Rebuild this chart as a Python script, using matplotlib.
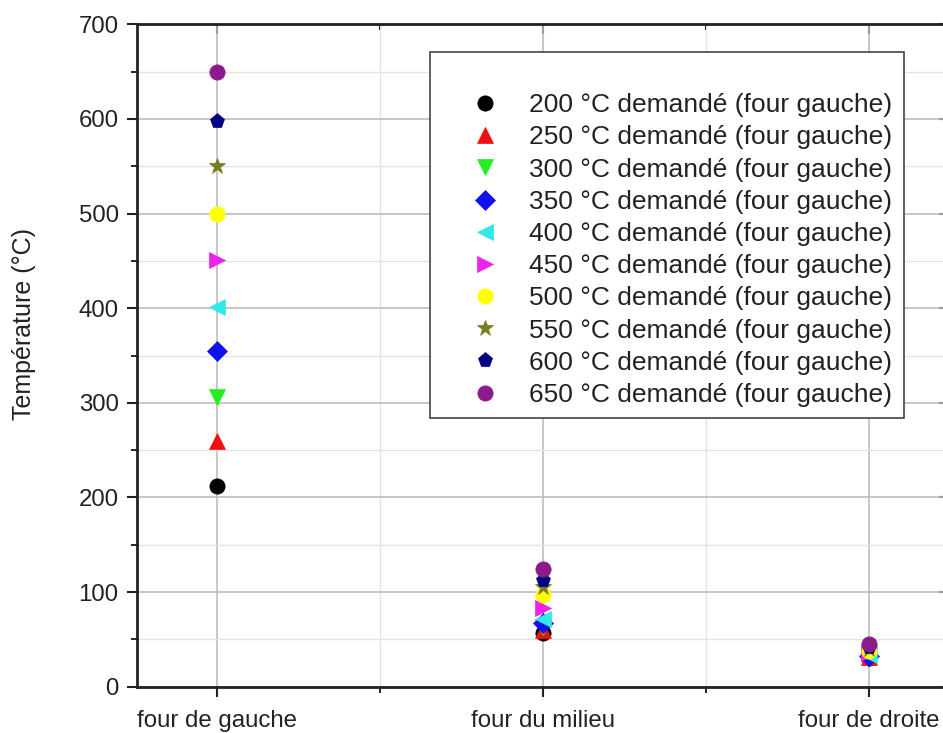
import matplotlib.pyplot as plt
from matplotlib.ticker import MultipleLocator, FixedLocator

plt.rcParams['font.family'] = ['Liberation Sans', 'DejaVu Sans']

fours = ['four de gauche', 'four du milieu', 'four de droite']
consignes = [200, 250, 300, 350, 400, 450, 500, 550, 600, 650]

# températures mesurées (gauche, milieu, droite) pour chaque consigne
t_gauche = [212, 260, 306, 355, 401, 451, 499, 550, 598, 649]
t_milieu = [57, 60, 63, 67, 72, 83, 97, 105, 113, 124]
t_droite = [30, 31, 32, 33, 34, 36, 38, 40, 42, 45]

marqueurs = ['o', '^', 'v', 'D', '<', '>', 'o', '*', 'p', 'o']
couleurs = ['#000000', '#ee1111', '#22ee22', '#1111ee', '#33e8e8',
            '#ee22ee', '#ffff00', '#7a7a20', '#000080', '#8b1a8b']
tailles = [11, 11, 11, 10, 11, 11, 11, 12, 11, 11]

fig = plt.figure(figsize=(9.43, 7.33), dpi=100)
ax = fig.add_axes([0.145, 0.063, 0.861, 0.904])

x = list(range(len(fours)))
for i, c in enumerate(consignes):
    y = [t_gauche[i], t_milieu[i], t_droite[i]]
    ax.plot(x, y, linestyle='none', marker=marqueurs[i], color=couleurs[i],
            markersize=tailles[i], markeredgewidth=0.5,
            markeredgecolor=couleurs[i],
            label=f'{c} °C demandé (four gauche)', zorder=3)

ax.set_xlim(-0.245, 2.245)
ax.set_ylim(0, 700)
ax.set_xticks(x)
ax.set_xticklabels(fours)
ax.xaxis.set_minor_locator(FixedLocator([0.5, 1.5]))
ax.yaxis.set_major_locator(MultipleLocator(100))
ax.yaxis.set_minor_locator(MultipleLocator(50))

ax.grid(True, which='major', color='#bdbdbd', linewidth=1.2)
ax.grid(True, which='minor', color='#e4e4e4', linewidth=1.0)
ax.set_axisbelow(True)

ax.tick_params(axis='both', which='major', labelsize=17.3, colors='#222222',
               direction='out', length=7, width=1.5)
ax.tick_params(axis='both', which='minor', direction='out', length=4, width=1.2)
ax.tick_params(axis='x', pad=10)
ax.tick_params(axis='y', pad=6)

for s in ax.spines.values():
    s.set_linewidth(2)
    s.set_color('#222222')

# graduations intérieures en haut et à droite
top = ax.secondary_xaxis('top')
top.set_xticks(x)
top.xaxis.set_minor_locator(FixedLocator([0.5, 1.5]))
top.tick_params(which='both', direction='in', labeltop=False, width=1.5)
top.tick_params(which='major', length=7)
top.tick_params(which='minor', length=4)
right = ax.secondary_yaxis('right')
right.yaxis.set_major_locator(MultipleLocator(100))
right.yaxis.set_minor_locator(MultipleLocator(50))
right.tick_params(which='both', direction='in', labelright=False, width=1.5)
right.tick_params(which='major', length=7)
right.tick_params(which='minor', length=4)

ax.set_ylabel('Température (°C)', fontsize=18, color='#222222')
ax.yaxis.set_label_coords(-0.124, 0.547)

leg = ax.legend(loc='upper left', bbox_to_anchor=(430 / 943, 1 - 52 / 733),
                bbox_transform=fig.transFigure, fontsize=19, title=' ',
                title_fontsize=17, frameon=True, fancybox=False,
                handletextpad=0.05, labelspacing=0.31, borderpad=0.42,
                handlelength=3.3, borderaxespad=0)
leg.get_frame().set_edgecolor('#444444')
leg.get_frame().set_linewidth(1.2)
leg.get_frame().set_alpha(1)
for t in leg.get_texts():
    t.set_color('#222222')

fig.savefig('out.png', dpi=100)
